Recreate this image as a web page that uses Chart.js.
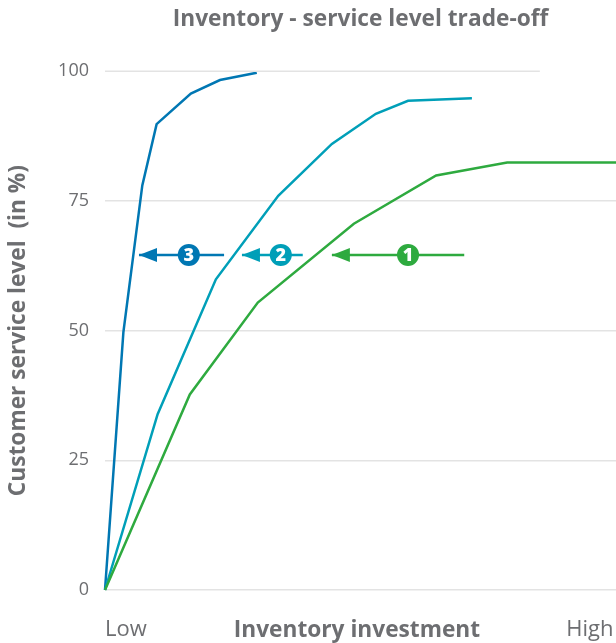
<!DOCTYPE html>
<html>
<head>
<meta charset="utf-8">
<title>Inventory - service level trade-off</title>
<script src="https://cdn.jsdelivr.net/npm/chart.js@4"></script>
<style>
    body { margin: 0; background: #fff; }
    canvas { display: block; }
</style>
</head>
<body>
<canvas id="tradeoffChart" width="616" height="643"></canvas>
<script>
// x is inventory investment on a 0-100 scale (Low to High), y is service level in %
const series1X = [0, 16.6, 29.9, 48.7, 64.8, 78.7, 100];
const series1Y = [0, 37.7, 55.4, 70.6, 79.9, 82.4, 82.4];
const series2X = [0, 10.3, 21.7, 33.9, 44.4, 53, 59.3, 71.8];
const series2Y = [0, 33.9, 59.9, 76, 86, 91.8, 94.3, 94.8];
const series3X = [0, 3.6, 7.3, 10.1, 16.8, 22.5, 29.7];
const series3Y = [0, 49.7, 78, 89.8, 95.7, 98.3, 99.7];

const yTicks = [0, 25, 50, 75, 100];
const xTicks = [0, 49.3, 99.5];
const xTickLabels = ['Low', 'Inventory investment', 'High'];
const topGridEnd = 85.1; // the 100 gridline stops short of the right edge

const arrowLevel = 64.6;
const arrowTips = [44.4, 26.8, 6.65];
const arrowTails = [70.3, 38.7, 23.3];
const badgeX = [59.3, 34.4, 16.4];
const badgeLabels = ['1', '2', '3'];

const colors = ['#2eaa3f', '#009fb8', '#0077b3'];
const gridColor = '#e3e3e3';
const textColor = '#6d6e71';
const fontFamily = '"Open Sans", sans-serif';

function toPoints(xs, ys) {
    return xs.map((x, i) => ({ x, y: ys[i] }));
}

function lineDataset(points, color, width = 2.5) {
    return {
        data: points,
        showLine: true,
        borderColor: color,
        borderWidth: width,
        pointRadius: 0,
        tension: 0,
        clip: false
    };
}

const datasets = [
    lineDataset(toPoints([0, topGridEnd], [100, 100]), gridColor, 1.5),
    lineDataset(toPoints(series1X, series1Y), colors[0]),
    lineDataset(toPoints(series2X, series2Y), colors[1]),
    lineDataset(toPoints(series3X, series3Y), colors[2])
];

arrowTips.forEach((tip, i) => {
    datasets.push(lineDataset(toPoints([tip, arrowTails[i]], [arrowLevel, arrowLevel]), colors[i]));
    datasets.push({
        data: [{ x: badgeX[i], y: arrowLevel }],
        pointRadius: 11,
        pointBackgroundColor: colors[i],
        pointBorderWidth: 0
    });
});

// arrow heads and the numbers inside the badges
const arrowDecor = {
    id: 'arrowDecor',
    afterDatasetsDraw(chart) {
        const { ctx, scales } = chart;
        const y = scales.y.getPixelForValue(arrowLevel);
        ctx.save();
        arrowTips.forEach((tip, i) => {
            const x = scales.x.getPixelForValue(tip);
            ctx.fillStyle = colors[i];
            ctx.beginPath();
            ctx.moveTo(x, y);
            ctx.lineTo(x + 18, y - 7);
            ctx.lineTo(x + 18, y + 7);
            ctx.closePath();
            ctx.fill();

            ctx.fillStyle = '#fff';
            ctx.font = '800 18px ' + fontFamily;
            ctx.textAlign = 'center';
            ctx.textBaseline = 'middle';
            ctx.fillText(badgeLabels[i], scales.x.getPixelForValue(badgeX[i]), y + 1);
        });
        ctx.restore();
    }
};

new Chart(document.getElementById('tradeoffChart'), {
    type: 'scatter',
    data: { datasets },
    plugins: [arrowDecor],
    options: {
        responsive: false,
        animation: false,
        layout: { autoPadding: false, padding: { top: 6, bottom: 0, left: 0, right: 0 } },
        plugins: {
            legend: { display: false },
            tooltip: { enabled: false },
            title: {
                display: true,
                text: 'Inventory - service level trade-off',
                fullSize: false,
                color: textColor,
                font: { family: fontFamily, size: 22.7, weight: 'bold' },
                padding: { top: 0, bottom: 38 }
            }
        },
        scales: {
            x: {
                type: 'linear',
                min: 0,
                max: 100,
                border: { display: false },
                grid: { display: false },
                afterBuildTicks(axis) {
                    axis.ticks = xTicks.map(value => ({ value }));
                },
                afterFit(axis) {
                    axis.height = 53;
                    axis.paddingRight = 0;
                },
                ticks: {
                    autoSkip: false,
                    maxRotation: 0,
                    align: 'inner',
                    padding: 19,
                    color: textColor,
                    font: ctx => ({
                        family: fontFamily,
                        size: ctx.index === 1 ? 22.7 : 22,
                        weight: ctx.index === 1 ? 'bold' : 'normal'
                    }),
                    callback: (value, i) => xTickLabels[i]
                }
            },
            y: {
                min: 0,
                max: 100,
                border: { display: false },
                afterBuildTicks(axis) {
                    axis.ticks = yTicks.map(value => ({ value }));
                },
                afterFit(axis) {
                    axis.width = 105;
                },
                grid: {
                    drawTicks: false,
                    lineWidth: 1.5,
                    color: ctx => (ctx.tick && ctx.tick.value === 100 ? 'transparent' : gridColor)
                },
                ticks: {
                    padding: 16,
                    color: textColor,
                    font: { family: fontFamily, size: 18 }
                },
                title: {
                    display: true,
                    text: 'Customer service level  (in %)',
                    color: textColor,
                    font: { family: fontFamily, size: 22.7, weight: 'bold' },
                    padding: { top: 5, bottom: 0 }
                }
            }
        }
    }
});
</script>
</body>
</html>
